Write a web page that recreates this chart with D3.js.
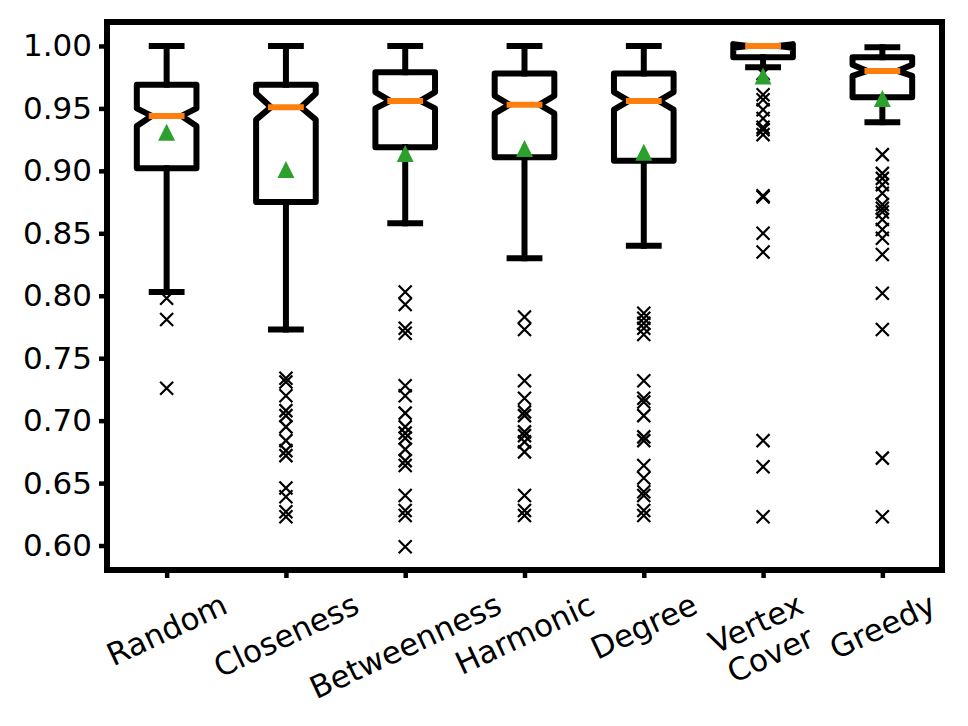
<!DOCTYPE html>
<html>
<head>
<meta charset="utf-8">
<script src="https://cdn.jsdelivr.net/npm/d3@7"></script>
<style>
  body { margin: 0; background: #fff; }
  text { font-family: "DejaVu Sans", sans-serif; }
</style>
</head>
<body>
<svg id="chart"></svg>
<script>
// ===============================
// Data
// ===============================
const categories = ["Random", "Closeness", "Betweenness", "Harmonic", "Degree", "Vertex\nCover", "Greedy"];

const whiskerLow  = [0.803, 0.773, 0.858, 0.830, 0.840, 0.983, 0.939];
const q1          = [0.902, 0.875, 0.919, 0.911, 0.908, 0.991, 0.959];
const medians     = [0.944, 0.951, 0.956, 0.953, 0.956, 1.000, 0.980];
const q3          = [0.969, 0.969, 0.979, 0.978, 0.978, 1.000, 0.991];
const whiskerHigh = [1.000, 1.000, 1.000, 1.000, 1.000, 1.000, 0.999];
const notchLow    = [0.936, 0.941, 0.950, 0.946, 0.949, 0.9985, 0.976];
const notchHigh   = [0.950, 0.962, 0.963, 0.960, 0.963, 1.0015, 0.985];
const means       = [0.931, 0.901, 0.914, 0.918, 0.915, 0.976, 0.958];

const outliers = [
    [0.798, 0.781, 0.726],
    [0.734, 0.731, 0.720, 0.708, 0.704, 0.695, 0.684, 0.676, 0.672, 0.646, 0.639, 0.627, 0.623],
    [0.803, 0.793, 0.774, 0.770, 0.728, 0.720, 0.706, 0.695, 0.690, 0.686, 0.677, 0.668, 0.664, 0.640, 0.628, 0.624, 0.599],
    [0.783, 0.773, 0.732, 0.718, 0.707, 0.704, 0.691, 0.688, 0.683, 0.675, 0.640, 0.628, 0.624],
    [0.786, 0.782, 0.778, 0.774, 0.769, 0.732, 0.718, 0.715, 0.704, 0.687, 0.684, 0.664, 0.654, 0.643, 0.640, 0.628, 0.624],
    [0.978, 0.961, 0.957, 0.949, 0.942, 0.935, 0.933, 0.929, 0.880, 0.879, 0.850, 0.835, 0.684, 0.663, 0.623],
    [0.913, 0.898, 0.894, 0.889, 0.882, 0.873, 0.870, 0.867, 0.861, 0.853, 0.846, 0.833, 0.802, 0.773, 0.670, 0.623]
];

const yTicks = [0.60, 0.65, 0.70, 0.75, 0.80, 0.85, 0.90, 0.95, 1.00];

// ===============================
// Layout
// ===============================
const width = 968, height = 726;
const margin = { left: 107, right: 942, top: 22, bottom: 570 };
const fontSize = 31;

const svg = d3.select("#chart").attr("width", width).attr("height", height);

const positions = categories.map((c, i) => i + 1);

const x = d3.scaleLinear().domain([0.5, 7.5]).range([margin.left, margin.right]);
const y = d3.scaleLinear().domain([0.5804, 1.0192]).range([margin.bottom, margin.top]);

const boxW = x(0.5) - x(0);       // box width = 0.5 units
const halfBox = boxW / 2;
const halfNotch = boxW / 4;
const halfCap = boxW / 4;

// ===============================
// Axes
// ===============================
const yAxis = svg.append("g")
    .attr("transform", `translate(${margin.left},0)`)
    .call(d3.axisLeft(y).tickValues(yTicks).tickFormat(d3.format(".2f")).tickSize(8).tickPadding(7));
yAxis.select(".domain").remove();
yAxis.selectAll("line").attr("stroke", "#000").attr("stroke-width", 4.5);
yAxis.selectAll("text").attr("font-size", fontSize).attr("fill", "#000")
    .attr("font-family", "DejaVu Sans");

const xAxis = svg.append("g")
    .attr("transform", `translate(0,${margin.bottom})`)
    .call(d3.axisBottom(x).tickValues(positions).tickSize(8).tickFormat(""));
xAxis.select(".domain").remove();
xAxis.selectAll("line").attr("stroke", "#000").attr("stroke-width", 4.5);

// Rotated x labels, bbox centred on tick (like matplotlib rotation=25)
categories.forEach((c, i) => {
    const g = svg.append("g");
    const t = g.append("text")
        .attr("transform", "rotate(-25)")
        .attr("text-anchor", "middle")
        .attr("font-size", fontSize)
        .attr("fill", "#000");
    c.split("\n").forEach((line, k) => {
        t.append("tspan").attr("x", 0).attr("dy", k === 0 ? 0 : "1.1em").text(line);
    });
    const bb = g.node().getBBox();
    g.attr("transform", `translate(${x(i + 1) - (bb.x + bb.width / 2)},${586 - bb.y})`);
});

// ===============================
// Boxes
// ===============================
const plot = svg.append("g");
const lw = 6;

positions.forEach((p, i) => {
    const cx = x(p);

    // whiskers
    plot.append("line")
        .attr("x1", cx).attr("x2", cx)
        .attr("y1", y(q1[i])).attr("y2", y(whiskerLow[i]))
        .attr("stroke", "#000").attr("stroke-width", lw).attr("stroke-linecap", "square");
    plot.append("line")
        .attr("x1", cx).attr("x2", cx)
        .attr("y1", y(q3[i])).attr("y2", y(whiskerHigh[i]))
        .attr("stroke", "#000").attr("stroke-width", lw).attr("stroke-linecap", "square");

    // caps
    [whiskerLow[i], whiskerHigh[i]].forEach(v => {
        plot.append("line")
            .attr("x1", cx - halfCap).attr("x2", cx + halfCap)
            .attr("y1", y(v)).attr("y2", y(v))
            .attr("stroke", "#000").attr("stroke-width", lw).attr("stroke-linecap", "square");
    });

    // notched box outline
    const bl = cx - halfBox, br = cx + halfBox, nl = cx - halfNotch, nr = cx + halfNotch;
    const pts = [
        [bl, q1[i]], [br, q1[i]], [br, notchLow[i]], [nr, medians[i]], [br, notchHigh[i]],
        [br, q3[i]], [bl, q3[i]], [bl, notchHigh[i]], [nl, medians[i]], [bl, notchLow[i]], [bl, q1[i]]
    ];
    plot.append("path")
        .attr("d", d3.line().x(d => d[0]).y(d => y(d[1]))(pts) + "Z")
        .attr("fill", "none")
        .attr("stroke", "#000").attr("stroke-width", lw)
        .attr("stroke-linejoin", "round");

    // median
    plot.append("line")
        .attr("x1", nl).attr("x2", nr)
        .attr("y1", y(medians[i])).attr("y2", y(medians[i]))
        .attr("stroke", "#ff7f0e").attr("stroke-width", 6).attr("stroke-linecap", "square");

    // fliers
    const s = 6.5;
    outliers[i].forEach(v => {
        const oy = y(v);
        plot.append("path")
            .attr("d", `M${cx - s},${oy - s}L${cx + s},${oy + s}M${cx - s},${oy + s}L${cx + s},${oy - s}`)
            .attr("stroke", "#000").attr("stroke-width", 2.2).attr("fill", "none");
    });

    // mean
    const m = 8.5, my = y(means[i]);
    plot.append("path")
        .attr("d", `M${cx},${my - m}L${cx - m},${my + m}L${cx + m},${my + m}Z`)
        .attr("fill", "#2ca02c");
});

// ===============================
// Spines
// ===============================
svg.append("rect")
    .attr("x", margin.left).attr("y", margin.top)
    .attr("width", margin.right - margin.left).attr("height", margin.bottom - margin.top)
    .attr("fill", "none").attr("stroke", "#000").attr("stroke-width", 6);
</script>
</body>
</html>
